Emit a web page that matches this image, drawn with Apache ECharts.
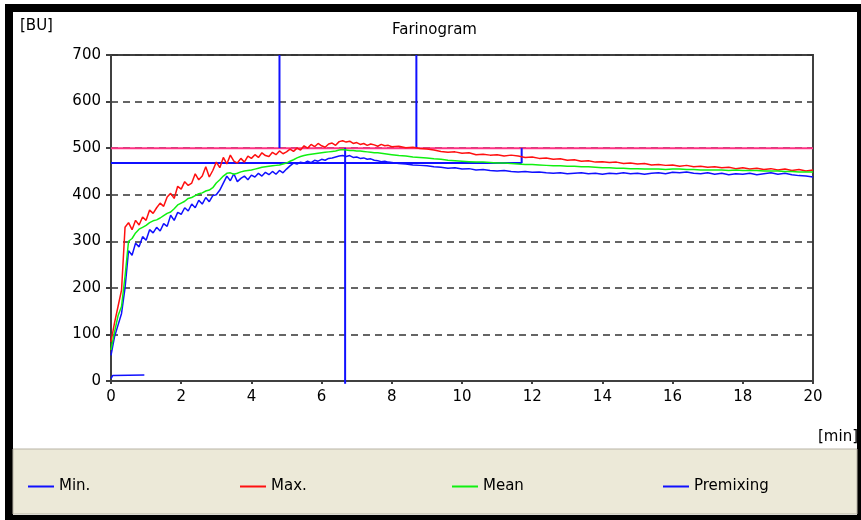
<!DOCTYPE html>
<html>
<head>
<meta charset="utf-8">
<style>
  html, body { margin: 0; padding: 0; background: #fff; }
  #chart { width: 861px; height: 520px; }
</style>
<script src="https://cdn.jsdelivr.net/npm/echarts@6/dist/echarts.min.js"></script>
</head>
<body>
<div id="chart"></div>
<script>
// Time axis (min): 0.1 min steps up to 8 min, 0.2 min steps afterwards
const times = [
  0.0,0.1,0.2,0.3,0.4,0.5,0.6,0.7,0.8,0.9,
  1.0,1.1,1.2,1.3,1.4,1.5,1.6,1.7,1.8,1.9,
  2.0,2.1,2.2,2.3,2.4,2.5,2.6,2.7,2.8,2.9,
  3.0,3.1,3.2,3.3,3.4,3.5,3.6,3.7,3.8,3.9,
  4.0,4.1,4.2,4.3,4.4,4.5,4.6,4.7,4.8,4.9,
  5.0,5.1,5.2,5.3,5.4,5.5,5.6,5.7,5.8,5.9,
  6.0,6.1,6.2,6.3,6.4,6.5,6.6,6.7,6.8,6.9,
  7.0,7.1,7.2,7.3,7.4,7.5,7.6,7.7,7.8,7.9,
  8.0,8.2,8.4,8.6,8.8,9.0,9.2,9.4,9.6,9.8,
  10.0,10.2,10.4,10.6,10.8,11.0,11.2,11.4,11.6,11.8,
  12.0,12.2,12.4,12.6,12.8,13.0,13.2,13.4,13.6,13.8,
  14.0,14.2,14.4,14.6,14.8,15.0,15.2,15.4,15.6,15.8,
  16.0,16.2,16.4,16.6,16.8,17.0,17.2,17.4,17.6,17.8,
  18.0,18.2,18.4,18.6,18.8,19.0,19.2,19.4,19.6,19.8,
  20.0
];

// Consistency (BU) – upper envelope
const maxBU = [
  84,125,160,195,330,340,325,345,335,352,
  345,367,360,372,382,375,395,403,392,418,
  412,428,420,425,445,432,440,460,438,452,
  470,458,480,466,485,472,468,478,470,483,
  478,486,480,490,484,482,491,486,494,488,
  492,498,493,500,496,505,500,508,503,510,
  505,502,509,511,506,514,516,513,515,510,
  512,508,510,506,509,507,504,508,505,506,
  503,504,501,502,499,498,496,493,491,492,
  489,490,486,487,485,486,483,485,483,480,
  481,478,479,476,477,474,475,472,473,470,
  471,469,470,467,468,466,467,464,465,463,
  464,461,463,460,461,459,460,458,459,456,
  458,455,457,454,456,453,455,452,454,451,
  453
];

// Consistency (BU) – mean curve
const meanBU = [
  67,105,140,160,225,300,306,318,326,330,
  334,340,344,346,350,355,360,363,370,378,
  382,386,392,394,398,402,404,408,410,415,
  425,432,440,446,447,444,446,449,451,452,
  453,455,457,459,460,461,462,463,464,466,
  468,472,475,479,482,484,486,487,488,489,
  490,491,492,493,494,496,497,496,495,495,
  494,494,493,492,491,490,490,489,488,487,
  486,484,483,481,480,479,477,476,474,473,
  472,471,470,470,469,468,468,467,466,465,
  465,464,463,462,462,461,461,460,460,459,
  458,458,457,457,456,456,455,455,455,454,
  455,455,454,454,453,453,453,453,452,453,
  452,452,452,451,451,451,450,450,449,449,
  449
];

// Consistency (BU) – lower envelope
const minBU = [
  55,95,120,145,200,280,270,296,288,310,
  302,325,318,330,322,338,332,356,345,362,
  358,372,365,380,372,388,380,394,385,398,
  400,410,425,440,430,445,428,435,440,432,
  442,438,446,440,448,443,450,444,452,447,
  455,462,468,466,470,468,472,469,474,472,
  476,474,478,479,481,483,484,482,484,480,
  481,478,479,476,477,474,473,471,472,470,
  469,467,466,464,463,462,460,459,457,458,
  455,456,453,454,452,451,452,450,449,450,
  448,449,447,446,447,445,446,447,445,446,
  444,446,445,447,445,446,444,446,447,445,
  448,447,449,446,445,447,444,446,443,445,
  444,446,443,445,447,444,446,443,441,440,
  438
];

// Premixing trace
const premixTimes = [0, 0.05, 0.95];
const premixBU = [5, 12, 13];

// Evaluation markers
const targetLine = 500;          // 500 BU reference
const arrivalLevel = 468;        // level used for development/stability
const arrivalTime = 4.8;
const departureTime = 8.7;
const peakTime = 6.67;
const stabilityEnd = 11.7;

const yTicks = [0, 100, 200, 300, 400, 500, 600, 700];
const xTicks = [0, 2, 4, 6, 8, 10, 12, 14, 16, 18, 20];

const zip = (xs, ys) => xs.map((x, i) => [x, ys[i]]);

const BLUE = '#1010FF';
const RED = '#FF1010';
const GREEN = '#10F010';
const PINK = '#FF3385';
const FONT = 'DejaVu Sans, Verdana, sans-serif';

function refLine(points, color) {
  return {
    type: 'line', data: points, symbol: 'none', silent: true,
    lineStyle: { color: color, width: 2 }, z: 3, clip: false
  };
}

const chart = echarts.init(document.getElementById('chart'), null, { renderer: 'canvas' });

const legendItems = ['Min.', 'Max.', 'Mean', 'Premixing'];
const legendLeft = [23, 235, 447, 658];

chart.setOption({
  animation: false,
  backgroundColor: '#ffffff',
  graphic: [
    { type: 'rect', z: -20, shape: { x: 5, y: 4, width: 856, height: 516 }, style: { fill: '#000' } },
    { type: 'rect', z: -19, shape: { x: 13, y: 12, width: 844, height: 503 }, style: { fill: '#fff' } },
    { type: 'rect', z: -18, shape: { x: 13, y: 449, width: 844, height: 65 }, style: { fill: '#ECE9D8', stroke: '#B8B4A6', lineWidth: 1 } },
    { type: 'text', z: 10, left: 20, top: 19, style: { text: '[BU]', font: '15px ' + FONT, fill: '#000' } },
    { type: 'text', z: 10, right: 3, top: 430, style: { text: '[min]', font: '15px ' + FONT, fill: '#000' } },
    { type: 'text', z: 10, left: 392, top: 23, style: { text: 'Farinogram', font: '15px ' + FONT, fill: '#000' } }
  ],
  legend: legendItems.map((name, i) => ({
    data: [name],
    left: legendLeft[i],
    top: 474,
    itemWidth: 26,
    itemHeight: 2,
    itemGap: 0,
    icon: 'rect',
    textStyle: { fontFamily: FONT, fontSize: 15, color: '#000' },
    selectedMode: false
  })),
  grid: {
    left: 111, right: 48, top: 55, bottom: 139,
    show: true, backgroundColor: '#fff', borderColor: '#404040', borderWidth: 2
  },
  xAxis: {
    type: 'value', min: 0, max: 20, interval: 2,
    axisLine: { onZero: false, lineStyle: { color: '#404040', width: 2 } },
    axisTick: { show: true, length: 3, lineStyle: { color: '#404040', width: 2 } },
    axisLabel: { margin: 9, fontFamily: FONT, fontSize: 15, color: '#000',
      formatter: v => xTicks.includes(v) ? String(v) : '' },
    splitLine: { show: false }
  },
  yAxis: {
    type: 'value', min: 0, max: 700, interval: 100,
    axisLine: { show: true, lineStyle: { color: '#404040', width: 2 } },
    axisTick: { show: true, length: 5, lineStyle: { color: '#404040', width: 2 } },
    axisLabel: { margin: 10, fontFamily: FONT, fontSize: 15, color: '#000',
      formatter: v => yTicks.includes(v) ? String(v) : '' },
    splitLine: {
      show: true,
      lineStyle: { color: '#333', width: 1.6, type: [7, 5] }
    }
  },
  series: [
    { name: 'Max.', type: 'line', data: zip(times, maxBU), symbol: 'none', lineStyle: { color: RED, width: 1.5 }, itemStyle: { color: RED }, z: 4 },
    { name: 'Min.', type: 'line', data: zip(times, minBU), symbol: 'none', lineStyle: { color: BLUE, width: 1.5 }, itemStyle: { color: BLUE }, z: 4 },
    { name: 'Mean', type: 'line', data: zip(times, meanBU), symbol: 'none', lineStyle: { color: GREEN, width: 1.5 }, itemStyle: { color: GREEN }, z: 5 },
    { name: 'Premixing', type: 'line', data: zip(premixTimes, premixBU), symbol: 'none', lineStyle: { color: BLUE, width: 1.5 }, itemStyle: { color: BLUE }, z: 4 },
    refLine([[0, targetLine], [20, targetLine]], PINK),
    refLine([[0, arrivalLevel], [stabilityEnd, arrivalLevel]], BLUE),
    refLine([[stabilityEnd, arrivalLevel], [stabilityEnd, targetLine]], BLUE),
    refLine([[arrivalTime, targetLine], [arrivalTime, 700]], BLUE),
    refLine([[departureTime, targetLine], [departureTime, 700]], BLUE),
    refLine([[peakTime, targetLine], [peakTime, -6]], BLUE)
  ]
});
</script>
</body>
</html>
